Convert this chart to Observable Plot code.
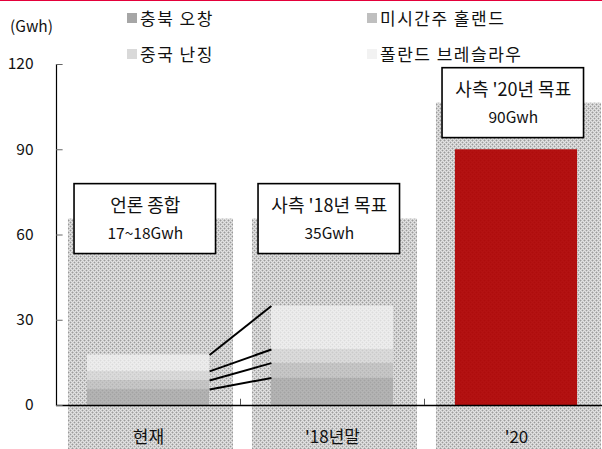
<!DOCTYPE html>
<html><head><meta charset="utf-8">
<script src="https://cdn.jsdelivr.net/npm/d3@7"></script>
<script src="https://cdn.jsdelivr.net/npm/@observablehq/plot@0.6"></script>
<style>
body{margin:0;background:#fff;}
#wrap{position:relative;width:602px;height:449px;overflow:hidden;font-family:"Noto Sans CJK KR","Noto Sans",sans-serif;}
#chart{position:absolute;left:0;top:0;}
#topline{position:absolute;left:0;top:0;width:602px;height:1px;background:#e4003a;}
.item{position:absolute;font-size:17px;color:#111;display:flex;align-items:center;white-space:nowrap;line-height:22px;letter-spacing:1.5px;}
.sw{width:10px;height:10px;margin-right:3px;}
#unit{position:absolute;left:10px;top:14px;font-size:15.5px;color:#111;}
</style></head>
<body><div id="wrap"><div id="chart"></div><div id="legend"></div><div id="unit">(Gwh)</div><div id="topline"></div></div>
<script>
const categories = ["현재", "'18년말", "'20"];
const series = ["충북 오창", "미시간주 홀랜드", "중국 난징", "폴란드 브레슬라우"];
const seriesColors = ["#a6a6a6", "#bfbfbf", "#d9d9d9", "#f2f2f2"];
const capacityNow = [5.6, 3.2, 3.2, 5.8];
const capacity2018 = [9.7, 5.2, 4.8, 15.3];
const target2020 = 90;
const panelTop = [65.6, 65.6, 106.4];
const boxTitles = ["언론 종합", "사측 '18년 목표", "사측 '20년 목표"];
const boxValues = ["17~18Gwh", "35Gwh", "90Gwh"];
const yTicks = [0, 30, 60, 90, 120];

// stacked layers
function stackRows(values, ci) {
  let acc = 0;
  return values.map((v, k) => {
    const r = {ci, series: series[k], y1: acc, y2: acc + v};
    acc += v;
    return r;
  });
}
const stackNow = stackRows(capacityNow, 0);
const stack18 = stackRows(capacity2018, 1);
const stacked = [...stackNow, ...stack18];
const links = stackNow.map((d, k) => ({from: d.y2, to: stack18[k].y2}));
const redBar = [{ci: 2, y1: 0, y2: target2020}];
const panels = categories.map((c, i) => ({ci: i, top: panelTop[i]}));
const boxes = categories.map((c, i) => ({ci: i, top: panelTop[i], title: boxTitles[i], value: boxValues[i]}));

const barHalf = 0.332;
const dividers = d3.range(1, categories.length).map(i => i - 0.5);
const font = '"Noto Sans CJK KR","Noto Sans",sans-serif';

const chart = Plot.plot({
  width: 602,
  height: 449,
  marginTop: 64,
  marginBottom: 44,
  marginLeft: 56,
  marginRight: 0,
  style: {fontFamily: font, fontSize: "15px", color: "#111", background: "transparent", overflow: "visible"},
  x: {domain: [-0.5, 2.5], range: [56, 608]},
  y: {domain: [0, 120]},
  color: {domain: series, range: seriesColors},
  marks: [
    Plot.rectY(panels, {x1: d => d.ci - 0.5 + 0.065, x2: d => d.ci + 0.5 - 0.038, y1: -16, y2: "top", fill: "url(#stip)"}),
    Plot.rectY(stacked, {x1: d => d.ci - barHalf, x2: d => d.ci + barHalf, y1: "y1", y2: "y2", fill: "series", fillOpacity: 0.75}),
    Plot.rectY(redBar, {x1: d => d.ci - barHalf, x2: d => d.ci + barHalf, y1: "y1", y2: "y2", fill: "#b00000", fillOpacity: 0.92}),
    Plot.link(links, {x1: barHalf, x2: 1 - barHalf, y1: "from", y2: "to", stroke: "#000", strokeWidth: 2}),
    Plot.ruleY([0], {stroke: "#000", strokeWidth: 1.3}),
    Plot.ruleX(dividers, {y1: 0, y2: 2.2, stroke: "#555"}),
    Plot.frame({anchor: "left", stroke: "#000", strokeWidth: 1.2}),
    Plot.ruleY(yTicks, {y: d => d, x1: -0.5, x2: -0.5 + 0.036, stroke: "#666"}),
    Plot.rect(boxes, {x1: d => d.ci - 0.5 + 0.098, x2: d => d.ci + 0.5 - 0.133, y1: d => d.top - 12.3, y2: d => d.top + 12.3, fill: "#fff", stroke: "#000", strokeWidth: 1.6}),
    Plot.text(boxes, {x: d => d.ci - 0.0175, y: "top", text: "title", dy: -13, fontSize: 18, fill: "#111"}),
    Plot.text(boxes, {x: d => d.ci - 0.0175, y: "top", text: "value", dy: 15, fontSize: 15.5, fill: "#111"}),
    Plot.axisY(yTicks, {tickSize: 0, tickPadding: 23, fontSize: 15.5, label: null}),
    Plot.axisX([0, 1, 2], {tickSize: 0, tickPadding: 25, fontSize: 17, tickFormat: i => categories[i], label: null})
  ]
});

chart.insertAdjacentHTML("afterbegin",
  '<defs><pattern id="stip" width="4" height="4" patternUnits="userSpaceOnUse">' +
  '<rect width="4" height="4" fill="#e2e2e2"/>' +
  '<rect x="0" y="0" width="1" height="1" fill="#9a9a9a"/>' +
  '<rect x="2" y="2" width="1" height="1" fill="#9a9a9a"/>' +
  '<rect x="1" y="0" width="1" height="1" fill="#c2c2c2"/>' +
  '<rect x="3" y="0" width="1" height="1" fill="#c2c2c2"/>' +
  '<rect x="0" y="1" width="1" height="1" fill="#c2c2c2"/>' +
  '<rect x="0" y="3" width="1" height="1" fill="#c2c2c2"/>' +
  '<rect x="2" y="1" width="1" height="1" fill="#cacaca"/>' +
  '<rect x="1" y="2" width="1" height="1" fill="#cacaca"/>' +
  '<rect x="3" y="2" width="1" height="1" fill="#cacaca"/>' +
  '<rect x="2" y="3" width="1" height="1" fill="#cacaca"/>' +
  '</pattern></defs>');
document.getElementById("chart").appendChild(chart);

const legend = document.getElementById("legend");
const legendPos = [[127, 7], [367, 7], [127, 43], [367, 43]];
series.forEach((s, k) => {
  const div = document.createElement("div");
  div.className = "item";
  div.style.left = legendPos[k][0] + "px";
  div.style.top = legendPos[k][1] + "px";
  div.innerHTML = `<span class="sw" style="background:${seriesColors[k]}"></span><span>${s}</span>`;
  legend.appendChild(div);
});
</script>
</body></html>
